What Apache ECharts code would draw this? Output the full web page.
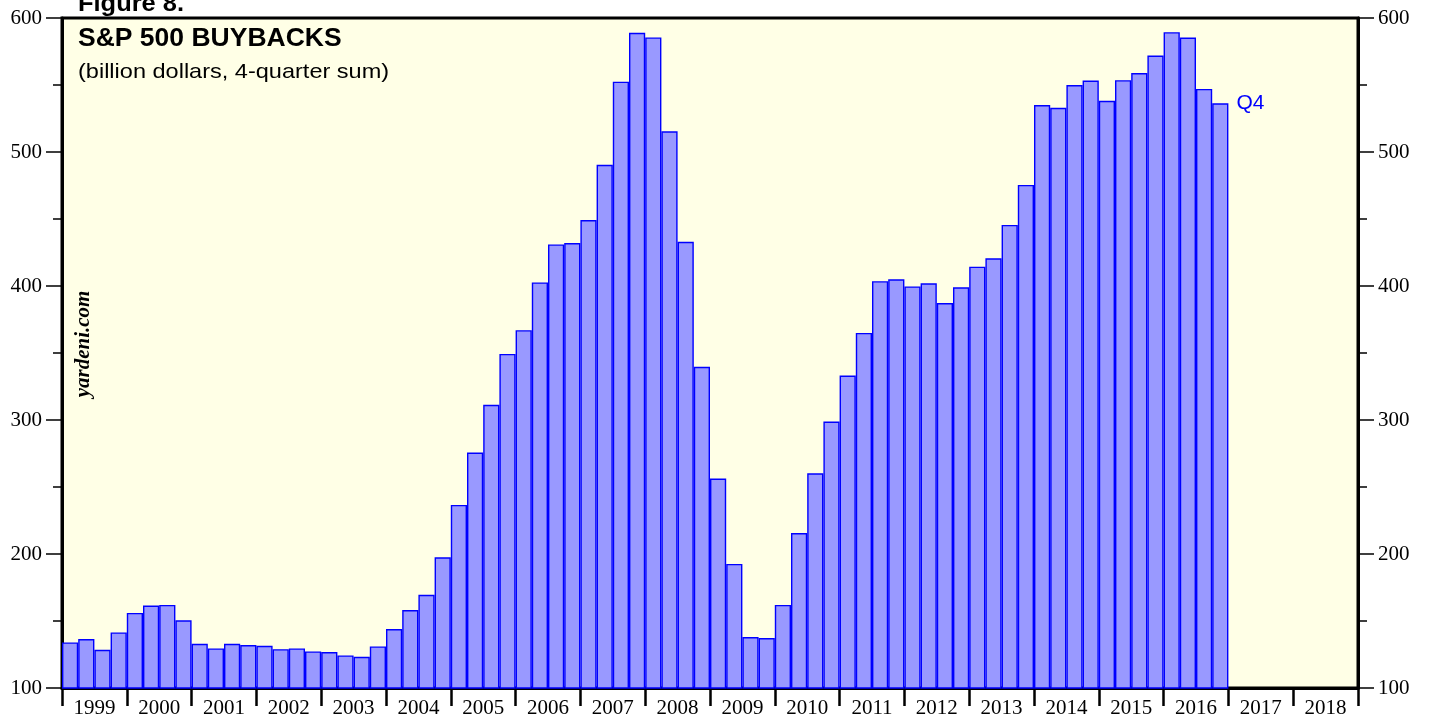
<!DOCTYPE html>
<html>
<head>
<meta charset="utf-8">
<script src="https://cdn.jsdelivr.net/npm/echarts@6/dist/echarts.min.js"></script>
<style>
  html, body { margin: 0; padding: 0; background: #fff; }
  #chart { width: 1429px; height: 719px; }
</style>
</head>
<body>
<div id="chart"></div>
<script>
// years shown on the axis
var years = ['1999','2000','2001','2002','2003','2004','2005','2006','2007','2008',
             '2009','2010','2011','2012','2013','2014','2015','2016','2017','2018'];

// 4-quarter sum of buybacks, billion dollars, 1999Q1 .. 2016Q4
var buybacks = [
  134, 136.5, 128.5, 141.5,   // 1999
  156, 161.5, 162, 150.5,     // 2000
  133, 129.5, 133, 132,       // 2001
  131.5, 129, 129.5, 127.3,   // 2002
  126.8, 124.3, 123.3, 131,   // 2003
  144, 158.2, 169.6, 197.5,   // 2004
  236.6, 275.7, 311.3, 349.3, // 2005
  367, 402.7, 431, 432,       // 2006
  449.2, 490.4, 552.5, 589,   // 2007
  585.5, 515.5, 433, 339.7,   // 2008
  256.3, 192.6, 138, 137.3,   // 2009
  162, 215.6, 260.2, 298.8,   // 2010
  333.2, 365, 403.6, 405,     // 2011
  399.7, 402, 387.3, 399,     // 2012
  414.4, 420.7, 445.6, 475.4, // 2013
  535, 533, 550, 553.3,       // 2014
  538.2, 553.6, 558.9, 572,   // 2015
  589.4, 585.4, 547.1, 536.3  // 2016
];

var quarters = [];
years.forEach(function (y) {
  for (var q = 1; q <= 4; q++) quarters.push(y + 'Q' + q);
});

var barData = quarters.map(function (q, i) {
  if (i >= buybacks.length) return null;
  if (i === buybacks.length - 1) {
    return {
      value: buybacks[i],
      label: {
        show: true, formatter: 'Q4', position: ['100%', 0], offset: [8, 0],
        align: 'left', verticalAlign: 'middle',
        color: '#0000ff', fontFamily: 'Liberation Sans', fontSize: 21
      }
    };
  }
  return buybacks[i];
});

var chart = echarts.init(document.getElementById('chart'));

var yAxisBase = {
  type: 'value', min: 100, max: 600, interval: 100,
  splitLine: { show: false },
  axisLine: { show: true, lineStyle: { color: '#000', width: 3 } },
  axisTick: { show: true, length: 16, lineStyle: { color: '#000', width: 1.5 } },
  minorTick: { show: true, splitNumber: 2, length: 9, lineStyle: { color: '#000', width: 1.5 } },
  axisLabel: { color: '#000', fontFamily: 'Liberation Serif', fontSize: 21, margin: 20 }
};

var option = {
  animation: false,
  grid: {
    left: 62, right: 71, top: 18, bottom: 29,
    show: true, backgroundColor: '#ffffe6', borderColor: '#000', borderWidth: 3
  },
  xAxis: [
    {
      type: 'category', data: quarters, show: false
    },
    {
      type: 'category', data: years, position: 'bottom',
      axisLine: { show: true, lineStyle: { color: '#000', width: 3 } },
      axisTick: { show: true, length: 18, alignWithLabel: false, lineStyle: { color: '#000', width: 2.5 } },
      axisLabel: { color: '#000', fontFamily: 'Liberation Serif', fontSize: 21, margin: 10, interval: 0 }
    }
  ],
  yAxis: [
    Object.assign({}, yAxisBase, { position: 'left' }),
    Object.assign({}, yAxisBase, { position: 'right' })
  ],
  series: [{
    type: 'bar',
    xAxisIndex: 0, yAxisIndex: 0,
    data: barData,
    barCategoryGap: '0%',
    itemStyle: { color: '#9999ff', borderColor: '#0000ff', borderWidth: 1.4 }
  }],
  graphic: [
    { type: 'text', left: 78, top: -8, scaleX: 1.06,
      style: { text: 'Figure 8.', fontFamily: 'Liberation Sans', fontWeight: 'bold', fontSize: 24, fill: '#000' } },
    { type: 'text', left: 78, top: 27, scaleX: 1.06,
      style: { text: 'S&P 500 BUYBACKS', fontFamily: 'Liberation Sans', fontWeight: 'bold', fontSize: 25, fill: '#000' } },
    { type: 'text', left: 78, top: 62, scaleX: 1.12,
      style: { text: '(billion dollars, 4-quarter sum)', fontFamily: 'Liberation Sans', fontSize: 21, fill: '#000' } },
    { type: 'text', x: 84, y: 344, rotation: Math.PI / 2,
      style: { text: 'yardeni.com', fontFamily: 'Liberation Serif', fontWeight: 'bold', fontStyle: 'italic',
               fontSize: 21, fill: '#000', align: 'center', verticalAlign: 'middle' } }
  ]
};

chart.setOption(option);
</script>
</body>
</html>
